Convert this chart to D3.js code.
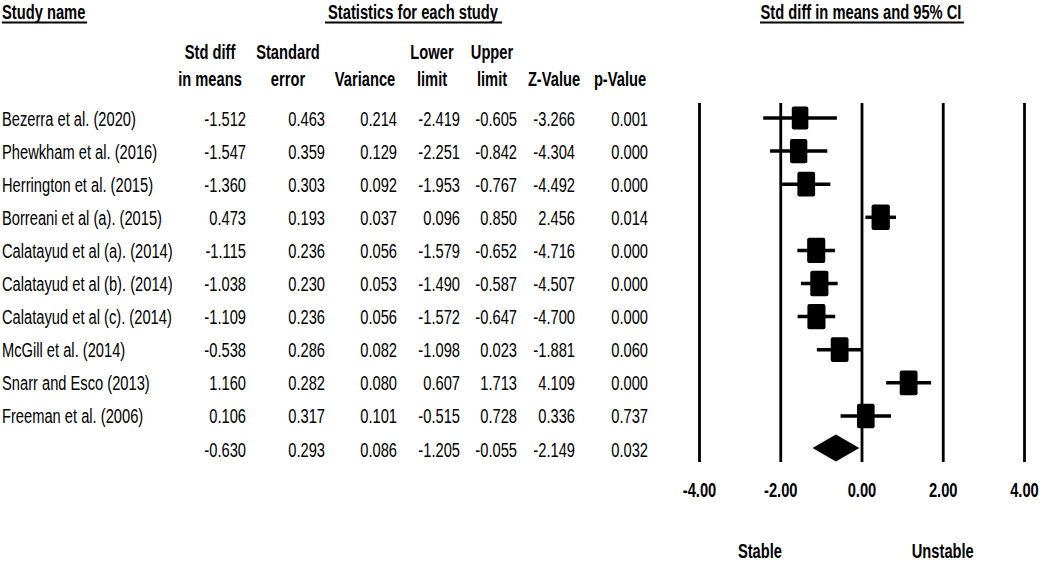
<!DOCTYPE html>
<html><head><meta charset="utf-8">
<script src="https://cdn.jsdelivr.net/npm/d3@7"></script>
<style>html,body{margin:0;padding:0;background:#fff;}svg{display:block;}</style>
</head><body>
<script>
const studies = ["Bezerra et al. (2020)","Phewkham et al. (2016)","Herrington et al. (2015)","Borreani et al (a). (2015)","Calatayud et al (a). (2014)","Calatayud et al (b). (2014)","Calatayud et al (c). (2014)","McGill et al. (2014)","Snarr and Esco (2013)","Freeman et al. (2006)"];
const smd = [-1.512,-1.547,-1.360,0.473,-1.115,-1.038,-1.109,-0.538,1.160,0.106];
const se = [0.463,0.359,0.303,0.193,0.236,0.230,0.236,0.286,0.282,0.317];
const variance = [0.214,0.129,0.092,0.037,0.056,0.053,0.056,0.082,0.080,0.101];
const lower = [-2.419,-2.251,-1.953,0.096,-1.579,-1.490,-1.572,-1.098,0.607,-0.515];
const upper = [-0.605,-0.842,-0.767,0.850,-0.652,-0.587,-0.647,0.023,1.713,0.728];
const zValue = [-3.266,-4.304,-4.492,2.456,-4.716,-4.507,-4.700,-1.881,4.109,0.336];
const pValue = [0.001,0.000,0.000,0.014,0.000,0.000,0.000,0.060,0.000,0.737];
// summary row: smd, se, variance, lower, upper, z, p
const summaryValues = [-0.630,0.293,0.086,-1.205,-0.055,-2.149,0.032];
const headerLine1 = ["Std diff","Standard","","Lower","Upper","",""];
const headerLine2 = ["in means","error","Variance","limit","limit","Z-Value","p-Value"];
const tickValues = [-4,-2,0,2,4];
const favourLabels = ["Stable","Unstable"];

const W = 1040, H = 562;
const FONT = "'Liberation Sans', Arial, sans-serif";
const SX = 0.7;
const svg = d3.select("body").append("svg").attr("width", W).attr("height", H);

function txt(x, y, s, anchor, bold, size) {
  return svg.append("text")
    .attr("transform", `translate(${x},${y}) scale(${SX},1)`)
    .attr("text-anchor", anchor || "start")
    .attr("font-family", FONT).attr("font-size", size || 21)
    .attr("font-weight", bold ? "bold" : "normal")
    .attr("fill", "#000").text(s);
}

// titles with underline
const TS = 20, TSX = 21 / 20;
function title(x, s, anchor) {
  return svg.append("text")
    .attr("transform", `translate(${x},19) scale(${SX * TSX},1)`)
    .attr("text-anchor", anchor)
    .attr("font-family", FONT).attr("font-size", TS).attr("font-weight", "bold")
    .attr("fill", "#000").text(s);
}
title(2, "Study name", "start");
svg.append("line").attr("x1", 2).attr("x2", 87).attr("y1", 22.5).attr("y2", 22.5).attr("stroke", "#000").attr("stroke-width", 1.8);
title(413, "Statistics for each study", "middle");
svg.append("line").attr("x1", 325).attr("x2", 502).attr("y1", 22.5).attr("y2", 22.5).attr("stroke", "#000").attr("stroke-width", 1.8);
title(861, "Std diff in means and 95% CI", "middle");
svg.append("line").attr("x1", 760).attr("x2", 964).attr("y1", 22.5).attr("y2", 22.5).attr("stroke", "#000").attr("stroke-width", 1.8);

// column headers
const headerCenters = [210, 288, 365, 432, 492, 554, 620];
const colRight = [246, 325, 397, 460, 517, 575, 648];
headerLine1.forEach((h, i) => { if (h) txt(headerCenters[i], 59, h, "middle", true); });
headerLine2.forEach((h, i) => { if (h) txt(headerCenters[i], 86, h, "middle", true); });

// row scale
const nRows = studies.length + 1;
const y = d3.scalePoint().domain(d3.range(nRows)).range([118, 449]);
const x = d3.scaleLinear().domain([-4, 4]).range([699, 1024]);

// table rows
studies.forEach((s, i) => {
  const yy = y(i) + 7.5;
  txt(2, yy, s, "start", false);
  const vals = [smd[i], se[i], variance[i], lower[i], upper[i], zValue[i], pValue[i]];
  vals.forEach((v, j) => txt(colRight[j], yy, v.toFixed(3), "end", false));
});
summaryValues.forEach((v, j) => txt(colRight[j], y(studies.length) + 7.5, v.toFixed(3), "end", false));

// axis with vertical lines
const axisY = 462;
const axis = d3.axisBottom(x).tickValues(tickValues).tickSizeInner(-(axisY - 103)).tickSizeOuter(0)
  .tickPadding(20).tickFormat(d => d.toFixed(2));
const ag = svg.append("g").attr("transform", `translate(0,${axisY})`).call(axis);
ag.select(".domain").remove();
ag.selectAll(".tick line").attr("stroke", "#000").attr("stroke-width", 2.8);
ag.selectAll(".tick text").attr("font-family", FONT).attr("font-size", 21).attr("font-weight", "bold")
  .attr("fill", "#000").attr("transform", `scale(${SX},1)`);

// box sizes from random-effects weights (tau^2 solved so that sum of weights matches summary variance)
const target = 1 / summaryValues[2];
let lo = 0, hi = 10;
for (let k = 0; k < 60; k++) {
  const mid = (lo + hi) / 2;
  const s = d3.sum(variance, v => 1 / (v + mid));
  if (s > target) lo = mid; else hi = mid;
}
const tau2 = (lo + hi) / 2;
const weights = variance.map(v => 1 / (v + tau2));
const wMax = d3.max(weights);

const plot = svg.append("g");
studies.forEach((s, i) => {
  plot.append("line").attr("x1", x(lower[i])).attr("x2", x(upper[i]))
    .attr("y1", y(i)).attr("y2", y(i)).attr("stroke", "#000").attr("stroke-width", 3.5);
});
studies.forEach((s, i) => {
  const f = Math.sqrt(weights[i] / wMax);
  const bw = 18.3 * f, bh = 25.5 * f;
  plot.append("rect").attr("x", x(smd[i]) - bw / 2).attr("y", y(i) - bh / 2)
    .attr("width", bw).attr("height", bh).attr("rx", 2).attr("fill", "#000");
});

// summary diamond
const sy = y(studies.length) - 1;
const dh = 13.5;
plot.append("path").attr("d", d3.line()([
  [x(summaryValues[3]), sy], [x(summaryValues[0]), sy - dh],
  [x(summaryValues[4]), sy], [x(summaryValues[0]), sy + dh]
]) + "Z").attr("fill", "#000");

// favour labels
txt(x(-2.5), 558, favourLabels[0], "middle", true);
txt(x(2), 558, favourLabels[1], "middle", true);
</script>
</body></html>
